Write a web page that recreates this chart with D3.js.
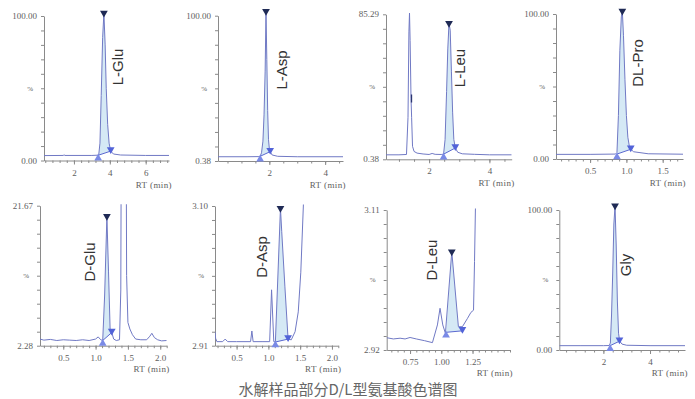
<!DOCTYPE html>
<html>
<head>
<meta charset="utf-8">
<script src="https://cdn.jsdelivr.net/npm/d3@7"></script>
<style>
  body { margin: 0; background: #fff; }
  svg { display: block; }
</style>
</head>
<body>
<svg id="chart" width="695" height="399"></svg>
<script>
// chromatogram traces (RT in min, signal in %)
const gluL_rt  = [0.33, 1.4, 1.45, 1.5, 3.0, 3.38, 3.45, 3.52, 3.6, 3.67, 3.74, 3.8, 3.88, 3.96, 4.05, 4.2, 4.6, 6.0, 7.3];
const gluL_pct = [3.4, 3.5, 3.9, 3.5, 3.5, 3.7, 12, 45, 85, 102, 80, 50, 25, 12, 6.5, 4.5, 3.8, 3.5, 3.5];

const aspL_rt  = [0.16, 1.2, 1.6, 1.67, 1.72, 1.77, 1.81, 1.85, 1.88, 1.91, 1.94, 1.97, 2.0, 2.03, 2.1, 2.3, 3.0, 4.64];
const aspL_pct = [3.3, 3.3, 3.4, 3.6, 6, 14, 32, 62, 103, 70, 35, 15, 9, 6.8, 4.5, 3.6, 3.3, 3.3];

const leuL_rt  = [0.57, 1.0, 1.25, 1.3, 1.33, 1.35, 1.37, 1.4, 1.42, 1.45, 1.5, 1.6, 1.8, 2.0, 2.1, 2.2, 2.4, 2.48, 2.53, 2.58, 2.62, 2.66, 2.7, 2.74, 2.78, 2.82, 2.87, 2.95, 3.1, 3.5, 4.0, 4.74];
const leuL_pct = [3.0, 3.0, 3.2, 25, 75, 86, 70, 36, 25, 8, 5, 4, 3.5, 3.2, 3.8, 3.3, 3.2, 3.4, 12, 40, 65, 80, 76, 52, 28, 12, 7, 4.5, 3.6, 3.3, 3.0, 3.0];

const proDL_rt  = [0.03, 0.5, 0.85, 0.87, 0.89, 0.91, 0.93, 0.944, 0.96, 0.98, 1.0, 1.02, 1.04, 1.06, 1.1, 1.3, 1.78];
const proDL_pct = [3.2, 3.2, 3.4, 4.5, 30, 75, 98, 102, 85, 55, 30, 15, 9, 6.7, 5, 3.6, 3.3];

const gluD_rt  = [0.14, 0.2, 0.3, 0.4, 0.5, 0.6, 0.7, 0.8, 0.9, 1.0, 1.04, 1.08, 1.11, 1.14, 1.175, 1.2, 1.225, 1.25, 1.28, 1.32, 1.37, 1.39, 1.40, 1.435, 1.47, 1.48, 1.5, 1.53, 1.57, 1.62, 1.7, 1.79, 1.84, 1.87, 1.91, 1.96, 2.02, 2.1];
const gluD_pct = [3.2, 3.05, 3.15, 3.0, 3.1, 3.05, 3.0, 3.1, 3.0, 3.2, 3.5, 3.1, 3.0, 9.3, 20.2, 12.5, 4.5, 4.1, 3.2, 3.0, 3.1, 10, 40, 60, 40, 12, 5.5, 4.6, 3.8, 3.2, 3.1, 3.1, 3.6, 4.0, 3.4, 3.1, 2.95, 3.0];

const aspD_rt  = [0.16, 0.17, 0.19, 0.28, 0.32, 0.36, 0.5, 0.72, 0.74, 0.76, 0.9, 1.02, 1.05, 1.085, 1.11, 1.19, 1.21, 1.26, 1.31, 1.36, 1.42, 1.47, 1.51, 1.55, 1.58];
const aspD_pct = [2.929, 2.920, 2.9155, 2.9155, 2.919, 2.9155, 2.9155, 2.9155, 2.930, 2.9155, 2.9155, 2.9155, 2.986, 2.9155, 2.915, 3.097, 3.065, 2.99, 2.919, 2.918, 2.929, 2.956, 3.01, 3.10, 3.2];

const leuD_rt  = [0.563, 0.616, 0.67, 0.71, 0.75, 0.8, 0.867, 0.929, 0.969, 0.99, 1.012, 1.033, 1.084, 1.137, 1.169, 1.21, 1.237, 1.258, 1.266, 1.273, 1.29];
const leuD_pct = [2.9367, 2.935, 2.936, 2.935, 2.937, 2.935, 2.9326, 2.930, 2.954, 2.9766, 2.954, 2.9427, 3.0534, 2.9516, 2.9516, 2.963, 2.971, 2.974, 3.04, 3.11, 3.2];

const gly_rt  = [0.11, 1.0, 2.0, 2.25, 2.3, 2.35, 2.4, 2.45, 2.5, 2.55, 2.6, 2.65, 2.7, 2.8, 3.0, 4.0, 5.5];
const gly_pct = [3.1, 3.1, 3.1, 3.2, 5, 25, 55, 90, 103, 75, 35, 12, 6.3, 4.2, 3.4, 3.1, 3.1];

const names = ['L-Glu', 'L-Asp', 'L-Leu', 'DL-Pro', 'D-Glu', 'D-Asp', 'D-Leu', 'Gly'];
const rtSeries = [gluL_rt, aspL_rt, leuL_rt, proDL_rt, gluD_rt, aspD_rt, leuD_rt, gly_rt];
const pctSeries = [gluL_pct, aspL_pct, leuL_pct, proDL_pct, gluD_pct, aspD_pct, leuD_pct, gly_pct];

// axes
const xDomains = [[0.33, 7.3], [0.16, 4.64], [0.57, 4.74], [0.03, 1.78], [0.14, 2.1], [0.16, 2.1], [0.563, 1.55], [0.11, 5.5]];
const yDomains = [[0, 100], [0.38, 100], [0.38, 85.29], [0, 100], [2.28, 21.67], [2.91, 3.10], [2.92, 3.11], [0, 100]];
const yTopLabels = ['100.00', '100.00', '85.29', '100.00', '21.67', '3.10', '3.11', '100.00'];
const yBottomLabels = ['0.00', '0.38', '0.38', '0.00', '2.28', '2.91', '2.92', '0.00'];
const xMajorTicks = [[2, 4, 6], [2, 4], [2, 4], [0.5, 1.0, 1.5], [0.5, 1.0, 1.5, 2.0], [0.5, 1.0, 1.5, 2.0], [0.75, 1.0, 1.25], [2, 4]];
const xMinorSteps = [0.4, 0.5, 0.5, 0.1, 0.1, 0.1, 0.05, 0.4];
const xTickDigits = [0, 0, 0, 1, 1, 1, 2, 0];

// integrated peak: apex, start and end of the integration
const peakApex  = [[3.67, 102], [1.88, 103], [2.66, 80], [0.944, 102], [1.175, 20.2], [1.19, 3.097], [1.084, 3.0534], [2.5, 103]];
const peakStart = [[3.35, 3.6], [1.67, 3.6], [2.48, 3.4], [0.87, 3.4], [1.11, 3.0], [1.11, 2.915], [1.038, 2.944], [2.29, 3.1]];
const peakEnd   = [[4.05, 6.5], [2.03, 6.8], [2.87, 7.0], [1.06, 6.7], [1.25, 4.1], [1.31, 2.919], [1.169, 2.946], [2.69, 6.3]];
const leuShoulder = [1.40, 36];

// panel placement in pixels (plot box + rotated name label)
const layout = [
  { left: 44,    right: 169,   top: 16,    bottom: 160.5, lx: 118, ly: 67 },
  { left: 218,   right: 343,   top: 15.7,  bottom: 161,   lx: 282, ly: 70 },
  { left: 386,   right: 511.7, top: 14.3,  bottom: 159.3, lx: 460, ly: 68 },
  { left: 556,   right: 683,   top: 14,    bottom: 159,   lx: 638, ly: 63 },
  { left: 40,    right: 166.7, top: 205.7, bottom: 345.7, lx: 90,  ly: 262 },
  { left: 215,   right: 338.3, top: 206,   bottom: 345.7, lx: 262, ly: 257 },
  { left: 386.7, right: 510,   top: 210,   bottom: 350,   lx: 432, ly: 260 },
  { left: 559.3, right: 685,   top: 210,   bottom: 350,   lx: 626, ly: 265 },
];

const AXIS = '#8a8a8a', TICKTXT = '#5e5e5e', LINE = '#7079c4', FILL = '#d5e9f5';
const SERIF = '"Liberation Serif", "DejaVu Serif", serif';

const svg = d3.select('#chart');
const defs = svg.append('defs');

names.forEach((name, i) => {
  const L = layout[i];
  const x = d3.scaleLinear().domain(xDomains[i]).range([L.left, L.right]);
  const y = d3.scaleLinear().domain(yDomains[i]).range([L.bottom, L.top]);
  const data = rtSeries[i].map((rt, k) => [rt, pctSeries[i][k]]);
  const g = svg.append('g').attr('class', 'panel');

  // y axis: 10 equal divisions, labels only at the ends
  const [y0, y1] = yDomains[i];
  const yAxis = d3.axisLeft(y).tickValues(d3.range(11).map(k => y0 + k * (y1 - y0) / 10))
    .tickSize(3).tickSizeOuter(0).tickFormat('');
  const gy = g.append('g').attr('transform', `translate(${L.left},0)`).call(yAxis);
  gy.selectAll('line, path').attr('stroke', AXIS);
  g.append('text').attr('x', L.left - 7).attr('y', y(y1)).attr('dy', '0.35em')
    .attr('text-anchor', 'end').attr('font-family', SERIF).attr('font-size', 9).attr('fill', TICKTXT)
    .text(yTopLabels[i]);
  g.append('text').attr('x', L.left - 7).attr('y', y(y0)).attr('dy', '0.35em')
    .attr('text-anchor', 'end').attr('font-family', SERIF).attr('font-size', 9).attr('fill', TICKTXT)
    .text(yBottomLabels[i]);
  g.append('text').attr('x', L.left - 11).attr('y', (L.top + L.bottom) / 2).attr('dy', '0.35em')
    .attr('text-anchor', 'end').attr('font-family', SERIF).attr('font-size', 7).attr('fill', TICKTXT)
    .text('%');

  // x axis: minor + major ticks
  const step = xMinorSteps[i];
  const n0 = Math.ceil(xDomains[i][0] / step - 1e-9), n1 = Math.floor(xDomains[i][1] / step + 1e-9);
  const minors = d3.range(n0, n1 + 1).map(k => +(k * step).toFixed(4));
  const gxm = g.append('g').attr('transform', `translate(0,${L.bottom})`)
    .call(d3.axisBottom(x).tickValues(minors).tickSize(2.5).tickSizeOuter(0).tickFormat(''));
  gxm.selectAll('line, path').attr('stroke', AXIS);
  const gx = g.append('g').attr('transform', `translate(0,${L.bottom})`)
    .call(d3.axisBottom(x).tickValues(xMajorTicks[i]).tickSize(4).tickSizeOuter(0)
      .tickFormat(d3.format(`.${xTickDigits[i]}f`)));
  gx.select('.domain').remove();
  gx.selectAll('line').attr('stroke', AXIS);
  gx.selectAll('text').attr('font-family', SERIF).attr('font-size', 9).attr('fill', TICKTXT).attr('dy', '0.9em');
  g.append('text').attr('x', L.right + 3).attr('y', L.bottom + (i < 4 ? 27 : 26))
    .attr('text-anchor', 'end').attr('font-family', SERIF).attr('font-size', 9).attr('fill', TICKTXT)
    .attr('letter-spacing', 0.4).text('RT (min)');

  // clip the trace to the plot (off-scale peaks are cut at the top)
  const clipTop = Math.min(L.top, y(peakApex[i][1])) - 1.5;
  defs.append('clipPath').attr('id', `clip${i}`).append('rect')
    .attr('x', L.left).attr('y', clipTop).attr('width', L.right - L.left).attr('height', L.bottom - clipTop);
  const plot = g.append('g').attr('clip-path', `url(#clip${i})`);

  // integrated area of the labelled peak
  const [s, e] = [peakStart[i], peakEnd[i]];
  const inside = data.filter(d => d[0] > s[0] && d[0] < e[0]);
  const poly = [s, ...inside, e];
  const line = d3.line().x(d => x(d[0])).y(d => y(d[1]));
  plot.append('path').attr('d', line(poly) + 'Z').attr('fill', FILL).attr('stroke', 'none');

  plot.append('path').datum(data).attr('d', line)
    .attr('fill', 'none').attr('stroke', LINE).attr('stroke-width', 1).attr('stroke-linejoin', 'round');
  plot.append('path').attr('d', line([s, e])).attr('stroke', '#5a68d0').attr('stroke-width', 1).attr('fill', 'none');

  if (i === 2) {
    plot.append('line').attr('x1', x(leuShoulder[0]) + 0.5).attr('x2', x(leuShoulder[0]) + 0.5)
      .attr('y1', y(leuShoulder[1]) - 4).attr('y2', y(leuShoulder[1]) + 4)
      .attr('stroke', '#2a3570').attr('stroke-width', 1.3);
  }

  // peak markers
  const tri = d3.symbol(d3.symbolTriangle).size(26);
  g.append('path').attr('d', tri).attr('fill', '#1f2a55')
    .attr('transform', `translate(${x(peakApex[i][0])},${y(peakApex[i][1])}) rotate(180)`);
  g.append('path').attr('d', tri).attr('fill', '#7a8ae6')
    .attr('transform', `translate(${x(s[0])},${y(s[1]) + 3})`);
  g.append('path').attr('d', tri).attr('fill', '#5263d8')
    .attr('transform', `translate(${x(e[0])},${y(e[1]) - 1.5}) rotate(180)`);

  // compound name
  g.append('text').attr('transform', `translate(${L.lx},${L.ly}) rotate(-90)`)
    .attr('text-anchor', 'middle').attr('dy', '0.35em')
    .attr('font-family', '"Liberation Sans", Arial, sans-serif').attr('font-size', 15).attr('fill', '#333')
    .text(name);
});

svg.append('text').attr('x', 348).attr('y', 395).attr('text-anchor', 'middle')
  .attr('font-family', '"Noto Sans CJK SC", "Noto Sans", sans-serif').attr('font-size', 15).attr('fill', '#666')
  .text('水解样品部分D/L型氨基酸色谱图');
</script>
</body>
</html>
